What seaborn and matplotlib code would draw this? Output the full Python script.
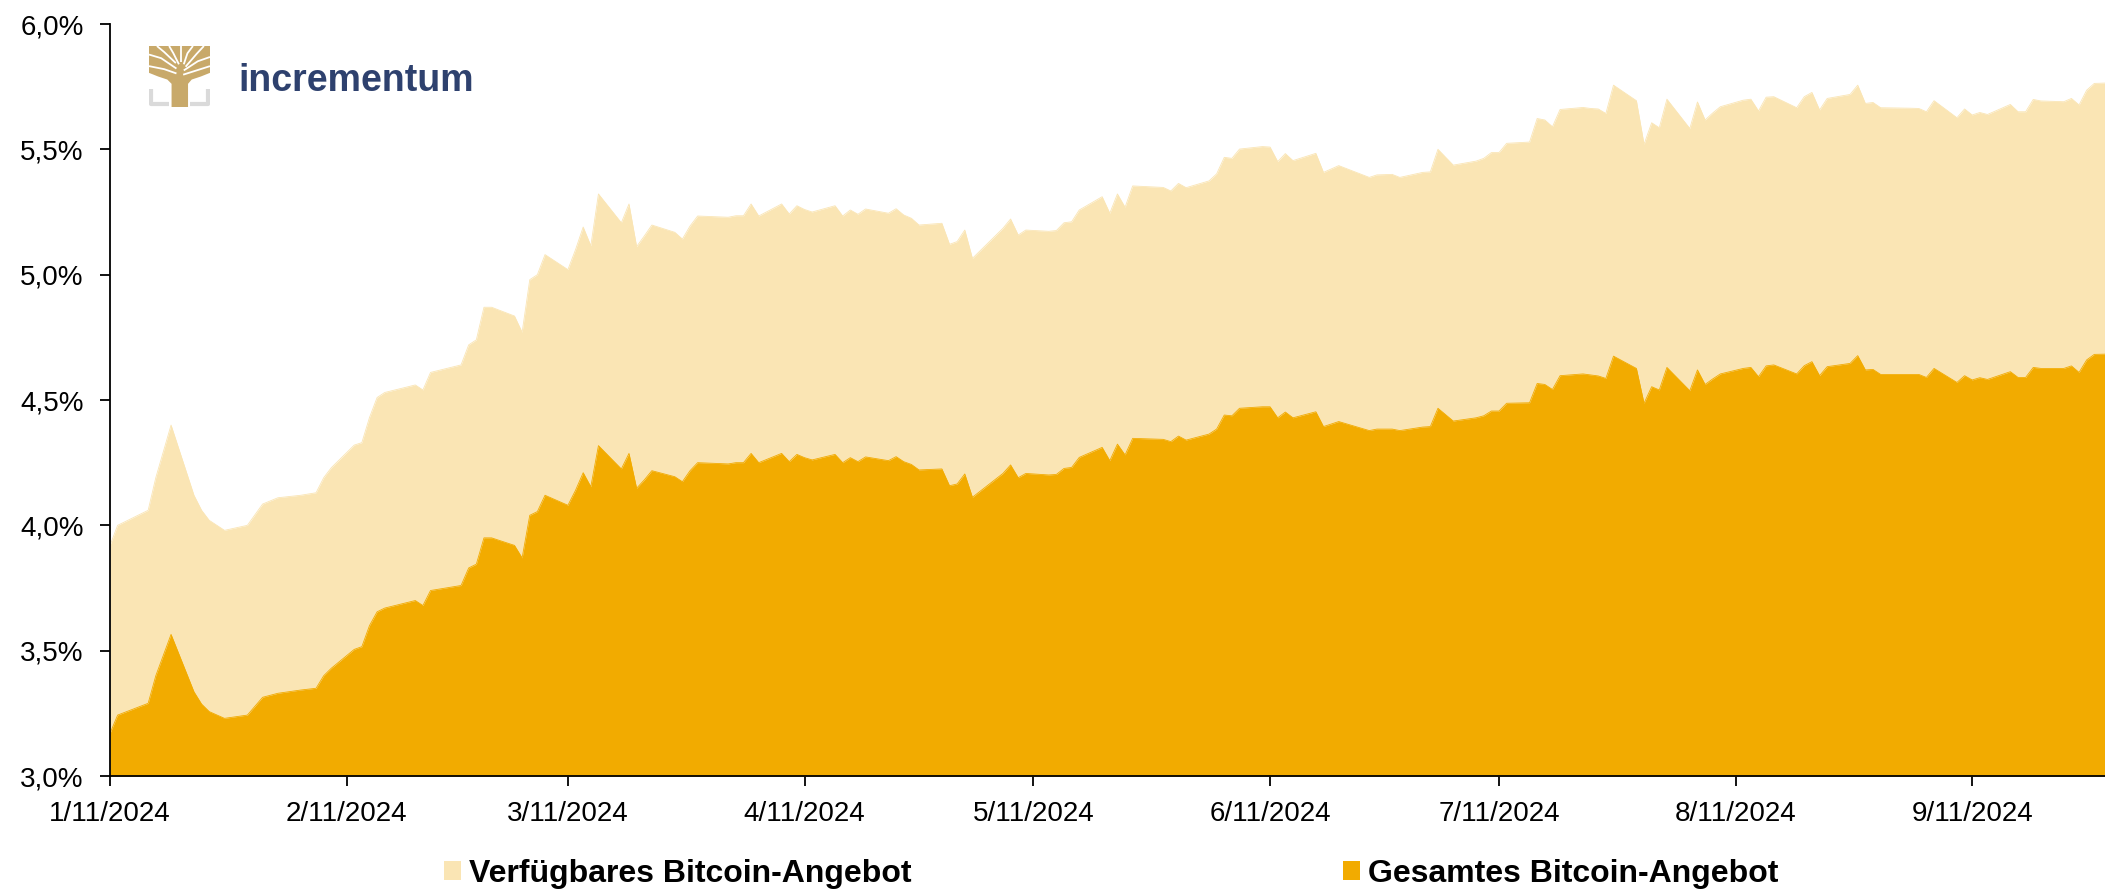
import matplotlib
matplotlib.use("Agg")
import matplotlib.pyplot as plt
from matplotlib.patches import Patch, Polygon
import pandas as pd
import seaborn as sns

# ---- data ---- #
dates = [
    "2024-01-11", "2024-01-12", "2024-01-16", "2024-01-17", "2024-01-19", "2024-01-22",
    "2024-01-23", "2024-01-24", "2024-01-26", "2024-01-29", "2024-01-31", "2024-02-02",
    "2024-02-05", "2024-02-07", "2024-02-08", "2024-02-09", "2024-02-12", "2024-02-13",
    "2024-02-14", "2024-02-15", "2024-02-16", "2024-02-20", "2024-02-21", "2024-02-22",
    "2024-02-26", "2024-02-27", "2024-02-28", "2024-02-29", "2024-03-01", "2024-03-04",
    "2024-03-05", "2024-03-06", "2024-03-07", "2024-03-08", "2024-03-11", "2024-03-12",
    "2024-03-13", "2024-03-14", "2024-03-15",
    "2024-03-18", "2024-03-19", "2024-03-20", "2024-03-21", "2024-03-22",
    "2024-03-25", "2024-03-26", "2024-03-27", "2024-03-28",
    "2024-04-01", "2024-04-02", "2024-04-03", "2024-04-04", "2024-04-05",
    "2024-04-08", "2024-04-09", "2024-04-10", "2024-04-11", "2024-04-12",
    "2024-04-15", "2024-04-16", "2024-04-17", "2024-04-18", "2024-04-19",
    "2024-04-22", "2024-04-23", "2024-04-24", "2024-04-25", "2024-04-26",
    "2024-04-29", "2024-04-30", "2024-05-01", "2024-05-02", "2024-05-03",
    "2024-05-07", "2024-05-08", "2024-05-09", "2024-05-10",
    "2024-05-13", "2024-05-14", "2024-05-15", "2024-05-16", "2024-05-17",
    "2024-05-20", "2024-05-21", "2024-05-22", "2024-05-23", "2024-05-24",
    "2024-05-28", "2024-05-29", "2024-05-30", "2024-05-31",
    "2024-06-03", "2024-06-04", "2024-06-05", "2024-06-06", "2024-06-07",
    "2024-06-10", "2024-06-11", "2024-06-12", "2024-06-13", "2024-06-14",
    "2024-06-17", "2024-06-18", "2024-06-20",
    "2024-06-24", "2024-06-25", "2024-06-27", "2024-06-28",
    "2024-07-01", "2024-07-02", "2024-07-03", "2024-07-05",
    "2024-07-08", "2024-07-09", "2024-07-10", "2024-07-11", "2024-07-12",
    "2024-07-15", "2024-07-16", "2024-07-17", "2024-07-18", "2024-07-19",
    "2024-07-22", "2024-07-23", "2024-07-24", "2024-07-25", "2024-07-26",
    "2024-07-29", "2024-07-30", "2024-07-31", "2024-08-01", "2024-08-02",
    "2024-08-05", "2024-08-06", "2024-08-07", "2024-08-08", "2024-08-09",
    "2024-08-12", "2024-08-13", "2024-08-14", "2024-08-15", "2024-08-16",
    "2024-08-19", "2024-08-20", "2024-08-21", "2024-08-22", "2024-08-23",
    "2024-08-26", "2024-08-27", "2024-08-28", "2024-08-29", "2024-08-30",
    "2024-09-03", "2024-09-04", "2024-09-05", "2024-09-06",
    "2024-09-09", "2024-09-10", "2024-09-11", "2024-09-12", "2024-09-13",
    "2024-09-16", "2024-09-17", "2024-09-18", "2024-09-19", "2024-09-20",
    "2024-09-23", "2024-09-24", "2024-09-25", "2024-09-26", "2024-09-27",
    "2024-09-30",
]

# share of available bitcoin supply held (%)
available = [
    3.92, 4.00, 4.06, 4.19, 4.40, 4.12, 4.06, 4.02, 3.98, 4.00, 4.085, 4.11,
    4.12, 4.13, 4.19, 4.23, 4.32, 4.33, 4.43, 4.51, 4.53, 4.56, 4.54, 4.61,
    4.64, 4.72, 4.74, 4.87, 4.87, 4.835, 4.77, 4.98, 5.00, 5.08, 5.02, 5.10,
    5.19, 5.115, 5.322,
    5.207, 5.282, 5.112, 5.154, 5.198,
    5.169, 5.142, 5.194, 5.234,
    5.229, 5.235, 5.235, 5.282, 5.234,
    5.282, 5.242, 5.275, 5.26, 5.25,
    5.275, 5.234, 5.258, 5.241, 5.262,
    5.245, 5.263, 5.238, 5.225, 5.198,
    5.205, 5.121, 5.132, 5.178, 5.065,
    5.185, 5.222, 5.158, 5.178,
    5.173, 5.176, 5.207, 5.211, 5.258,
    5.311, 5.245, 5.322, 5.269, 5.354,
    5.348, 5.334, 5.364, 5.347,
    5.374, 5.402, 5.468, 5.464, 5.501,
    5.511, 5.509, 5.451, 5.483, 5.455,
    5.484, 5.408, 5.435,
    5.388, 5.398, 5.400, 5.388,
    5.408, 5.410, 5.500, 5.437,
    5.453, 5.464, 5.487, 5.487, 5.524,
    5.529, 5.623, 5.617, 5.590, 5.659,
    5.667, 5.663, 5.661, 5.643, 5.756,
    5.694, 5.520, 5.606, 5.586, 5.700,
    5.583, 5.689, 5.617, 5.645, 5.670,
    5.696, 5.700, 5.653, 5.708, 5.710,
    5.666, 5.710, 5.727, 5.657, 5.703,
    5.719, 5.756, 5.683, 5.687, 5.666,
    5.664, 5.663, 5.650, 5.694,
    5.626, 5.661, 5.637, 5.647, 5.639,
    5.679, 5.650, 5.650, 5.699, 5.693,
    5.690, 5.703, 5.677, 5.736, 5.763,
    5.766,
]

# share of total bitcoin supply held (%)
total = [
    3.17, 3.243, 3.29, 3.40, 3.565, 3.336, 3.287, 3.257, 3.23, 3.243, 3.314, 3.33,
    3.343, 3.35, 3.40, 3.43, 3.505, 3.516, 3.60, 3.655, 3.67, 3.70, 3.68, 3.74,
    3.76, 3.83, 3.845, 3.95, 3.95, 3.92, 3.87, 4.04, 4.055, 4.12, 4.08, 4.14,
    4.21, 4.154, 4.318,
    4.225, 4.287, 4.148, 4.181, 4.218,
    4.194, 4.174, 4.218, 4.250,
    4.245, 4.250, 4.250, 4.287, 4.250,
    4.287, 4.254, 4.283, 4.270, 4.261,
    4.283, 4.250, 4.270, 4.254, 4.273,
    4.258, 4.274, 4.254, 4.243, 4.221,
    4.225, 4.158, 4.165, 4.205, 4.112,
    4.207, 4.241, 4.190, 4.207,
    4.201, 4.203, 4.227, 4.231, 4.271,
    4.311, 4.258, 4.324, 4.281, 4.347,
    4.343, 4.334, 4.356, 4.340,
    4.364, 4.384, 4.440, 4.437, 4.467,
    4.473, 4.473, 4.429, 4.452, 4.429,
    4.453, 4.394, 4.414,
    4.378, 4.384, 4.384, 4.378,
    4.392, 4.394, 4.467, 4.416,
    4.429, 4.437, 4.456, 4.456, 4.487,
    4.489, 4.566, 4.562, 4.542, 4.597,
    4.604, 4.600, 4.596, 4.586, 4.675,
    4.626, 4.487, 4.553, 4.540, 4.630,
    4.537, 4.620, 4.562, 4.584, 4.604,
    4.626, 4.630, 4.593, 4.636, 4.640,
    4.604, 4.637, 4.653, 4.597, 4.633,
    4.646, 4.677, 4.620, 4.622, 4.602,
    4.602, 4.602, 4.590, 4.626,
    4.570, 4.597, 4.580, 4.589, 4.582,
    4.613, 4.590, 4.590, 4.630, 4.626,
    4.626, 4.636, 4.610, 4.660, 4.682,
    4.684,
]

series_labels = ["Verfügbares Bitcoin-Angebot", "Gesamtes Bitcoin-Angebot"]
tick_months = [1, 2, 3, 4, 5, 6, 7, 8, 9]
y_ticks = [3.0, 3.5, 4.0, 4.5, 5.0, 5.5, 6.0]

LIGHT = "#FAE5B4"
DARK = "#F2AB00"
NAVY = "#2E416E"
GOLD = "#C8A96A"

df = pd.DataFrame({"date": pd.to_datetime(dates), "available": available, "total": total})

sns.set_theme(style="ticks")
plt.rcParams["font.family"] = ["Liberation Sans", "DejaVu Sans"]

fig = plt.figure(figsize=(21.05, 8.9), dpi=100)
ax = fig.add_axes([110 / 2105, 114 / 890, 1995 / 2105, 752 / 890])

ax.fill_between(df["date"], 3.0, df["available"], color=LIGHT, lw=0, zorder=1)
ax.fill_between(df["date"], 3.0, df["total"], color=DARK, lw=0, zorder=2)
sns.lineplot(data=df, x="date", y="available", color=LIGHT, lw=0.6, ax=ax, zorder=1.5)
sns.lineplot(data=df, x="date", y="total", color=DARK, lw=0.6, ax=ax, zorder=2.5)

ax.set_ylim(3.0, 6.0)
ax.set_yticks(y_ticks)
ax.set_yticklabels([f"{v:.1f}".replace(".", ",") + "%" for v in y_ticks])

x0 = pd.Timestamp("2024-01-11")
ax.set_xlim(x0, x0 + pd.Timedelta(days=261.4))
ax.set_xticks([pd.Timestamp(2024, m, 11) for m in tick_months])
ax.set_xticklabels([f"{m}/11/2024" for m in tick_months])

ax.set_xlabel("")
ax.set_ylabel("")
sns.despine(ax=ax)
for side in ("left", "bottom"):
    ax.spines[side].set_color("black")
    ax.spines[side].set_linewidth(1.3)
    ax.spines[side].set_zorder(5)
ax.tick_params(axis="both", colors="black", labelsize=20, width=1.3, length=7,
               direction="out")
ax.tick_params(axis="y", pad=12)
ax.tick_params(axis="x", pad=11)

# ---- legend ---- #
handles = [Patch(facecolor=LIGHT, lw=0), Patch(facecolor=DARK, lw=0)]
leg = fig.legend(handles, series_labels, loc="center", bbox_to_anchor=(0.528, 0.018),
                 ncol=2, frameon=False, prop={"size": 23, "weight": "bold"},
                 columnspacing=13.5, handlelength=0.53, handleheight=0.53,
                 handletextpad=0.25)
for t in leg.get_texts():
    t.set_color("black")

# ---- logo ---- #
lax = fig.add_axes([149 / 2105, 1 - 107 / 890, 61 / 2105, 61 / 890])
lax.set_xlim(0, 1)
lax.set_ylim(0, 1)
lax.axis("off")
lax.plot([0.025, 0.025, 0.32], [0.3, 0.05, 0.05], color="#DADADA", lw=3, solid_capstyle="butt")
lax.plot([0.68, 0.975, 0.975], [0.05, 0.05, 0.3], color="#DADADA", lw=3, solid_capstyle="butt")
lax.add_patch(Polygon([(0, 1), (1, 1), (1, 0.56), (0.85, 0.5), (0.7, 0.45), (0.64, 0.38),
                       (0.64, 0.0), (0.37, 0.0), (0.37, 0.38), (0.3, 0.45), (0.15, 0.5),
                       (0, 0.56)], closed=True, color=GOLD, lw=0))
gaps = [
    [(0.45, 0.55), (0.25, 0.62), (0.0, 0.67)],
    [(0.45, 0.63), (0.2, 0.8), (0.0, 0.86)],
    [(0.44, 0.72), (0.25, 0.9), (0.13, 1.0)],
    [(0.49, 0.7), (0.4, 0.88), (0.33, 1.0)],
    [(0.53, 0.74), (0.53, 1.0)],
    [(0.57, 0.7), (0.63, 0.88), (0.72, 1.0)],
    [(0.6, 0.66), (0.78, 0.87), (0.9, 1.0)],
    [(0.57, 0.6), (0.8, 0.75), (1.0, 0.82)],
    [(0.56, 0.53), (0.78, 0.6), (1.0, 0.67)],
]
for g in gaps:
    xs, ys = zip(*g)
    lax.plot(xs, ys, color="white", lw=1.3, solid_capstyle="butt")
fig.text(238 / 2105, 1 - 91 / 890, "incrementum", color=NAVY, fontsize=27,
         fontweight="bold", va="baseline", ha="left")

fig.savefig("out.png", dpi=100)
